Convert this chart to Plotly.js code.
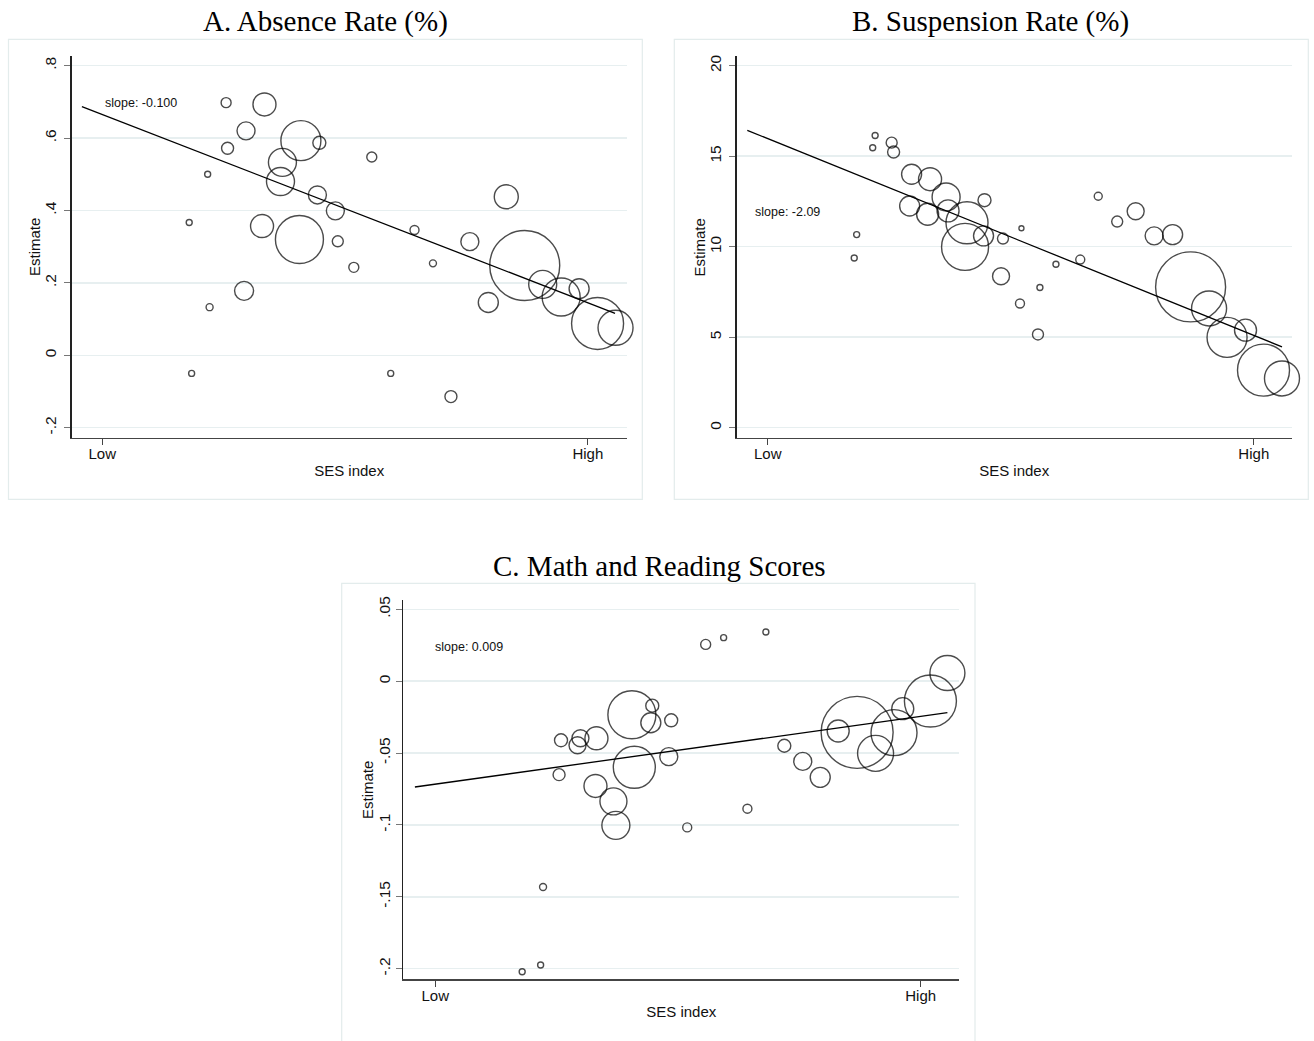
<!DOCTYPE html>
<html><head><meta charset="utf-8">
<script src="https://cdn.plot.ly/plotly-3.0.1.min.js"></script>
<style>html,body{margin:0;padding:0;background:#fff}#chart{width:1314px;height:1041px}</style>
</head><body><div id="chart"></div>
<script>
// ---------- data ----------
const sesTickVals = [0, 1];
const sesTickText = ['Low', 'High'];

// Panel A: Absence Rate (%)
const absenceX = [0.255,0.334,0.296,0.409,0.447,0.258,0.217,0.555,0.371,0.367,0.443,0.480,0.832,0.179,0.329,0.406,0.485,0.643,0.757,0.518,0.681,0.870,0.907,0.982,0.945,0.292,0.795,0.221,1.020,1.057,0.184,0.594,0.718];
const absenceY = [0.698,0.693,0.620,0.593,0.587,0.572,0.500,0.548,0.533,0.480,0.443,0.399,0.438,0.367,0.357,0.320,0.315,0.346,0.314,0.243,0.254,0.248,0.196,0.184,0.161,0.178,0.146,0.133,0.088,0.076,-0.050,-0.050,-0.114];
const absenceWeight = [10,23,18,40,13,12,6,10,28,28,18,18,24,6,23,48,11,9,18,10,7,70,28,20,38,19,20,7,52,35,6,6,12];
const absenceFitX = [-0.042, 1.056];
const absenceFitY = [0.687, 0.116];
const absenceTickVals = [0.8, 0.6, 0.4, 0.2, 0, -0.2];
const absenceTickText = ['.8', '.6', '.4', '.2', '0', '-.2'];
const absenceSlope = 'slope: -0.100';

// Panel B: Suspension Rate (%)
const suspX = [0.221,0.216,0.255,0.259,0.296,0.334,0.367,0.292,0.329,0.371,0.410,0.446,0.444,0.406,0.484,0.183,0.178,0.522,0.480,0.593,0.643,0.519,0.560,0.556,0.680,0.719,0.757,0.795,0.833,0.870,0.908,0.945,0.983,1.020,1.058];
const suspY = [16.14,15.47,15.75,15.23,14.00,13.73,12.75,12.25,11.79,11.98,11.32,12.57,10.60,9.99,10.45,10.67,9.38,11.02,8.37,9.03,9.29,6.86,7.75,5.15,12.79,11.39,11.96,10.60,10.67,7.78,6.59,4.99,5.39,3.18,2.72];
const suspWeight = [6,6,11,12,20,23,28,20,22,22,42,13,20,47,11,6,6,5,17,6,9,9,6,11,8,11,17,18,20,70,35,40,22,52,35];
const suspFitX = [-0.042, 1.058];
const suspFitY = [16.43, 4.47];
const suspTickVals = [20, 15, 10, 5, 0];
const suspTickText = ['20', '15', '10', '5', '0'];
const suspSlope = 'slope: -2.09';

// Panel C: Math and Reading Scores
const scoreX = [0.557,0.594,0.681,1.055,1.020,0.963,0.405,0.447,0.444,0.486,0.259,0.299,0.293,0.332,0.830,0.869,0.945,0.907,0.719,0.757,0.793,0.481,0.410,0.255,0.330,0.367,0.372,0.519,0.643,0.222,0.217,0.179];
const scoreY = [0.0256,0.0303,0.0342,0.0057,-0.0138,-0.0191,-0.0233,-0.0170,-0.0289,-0.0272,-0.0411,-0.0397,-0.0446,-0.0397,-0.0346,-0.0356,-0.0358,-0.0502,-0.0449,-0.0558,-0.0669,-0.0525,-0.0599,-0.0650,-0.0729,-0.0836,-0.1003,-0.1017,-0.0887,-0.1432,-0.1975,-0.2021];
const scoreWeight = [10,6,6,35,52,22,48,13,20,13,13,17,17,23,22,72,46,36,13,18,20,18,42,12,23,27,28,9,9,7,6,6];
const scoreFitX = [-0.042, 1.055];
const scoreFitY = [-0.0736, -0.0219];
const scoreTickVals = [0.05, 0, -0.05, -0.1, -0.15, -0.2];
const scoreTickText = ['.05', '0', '-.05', '-.1', '-.15', '-.2'];
const scoreSlope = 'slope: 0.009';

const panelTitles = ['A. Absence Rate (%)', 'B. Suspension Rate (%)', 'C. Math and Reading Scores'];
const yTitle = 'Estimate';
const xTitle = 'SES index';

// ---------- layout helpers ----------
const W = 1314, H = 1041;
const px = v => v / W;
const py = v => 1 - v / H;
const gridColor = '#e7eff0';
const frameColor = '#e3ecec';
const sans = 'Liberation Sans, Arial, Helvetica, sans-serif';
const tickFont = {family: sans, size: 15, color: '#111'};
const yTickFont = {family: sans, size: 15.5, color: '#111'};
const titleFont = {family: 'Liberation Serif, Times New Roman, serif', size: 29, color: '#000'};

function xAxis(x0, x1, range, anchor) {
  return {
    domain: [px(x0), px(x1)], range: range, anchor: anchor,
    tickmode: 'array', tickvals: sesTickVals, ticktext: sesTickText,
    ticks: 'outside', ticklen: 6, tickwidth: 1, tickcolor: '#444',
    showgrid: false, zeroline: false, showline: true, linecolor: '#444', linewidth: 1.3,
    tickfont: tickFont, ticklabelstandoff: -4,
    title: {text: xTitle, font: tickFont, standoff: 4},
    automargin: false, fixedrange: true
  };
}
function yAxis(y0, y1, range, anchor, vals, text, standoff) {
  return {
    domain: [py(y1), py(y0)], range: range, anchor: anchor,
    tickmode: 'array', tickvals: vals, ticktext: text, tickangle: -90,
    ticks: 'outside', ticklen: 6, tickwidth: 1, tickcolor: '#777',
    showgrid: true, gridcolor: gridColor, gridwidth: 1.5,
    zeroline: false, showline: true, linecolor: '#222', linewidth: 1.3,
    tickfont: yTickFont, ticklabelstandoff: standoff,
    automargin: false, fixedrange: true
  };
}

function bubbles(x, y, w, xa, ya) {
  return {
    type: 'scatter', mode: 'markers', x: x, y: y, xaxis: xa, yaxis: ya,
    cliponaxis: false,
    marker: {symbol: 'circle', size: w, sizemode: 'diameter', color: 'rgba(0,0,0,0)',
             line: {color: '#000', width: 1.4}},
    hoverinfo: 'skip', showlegend: false
  };
}
function fitLine(x, y, xa, ya) {
  return {
    type: 'scatter', mode: 'lines', x: x, y: y, xaxis: xa, yaxis: ya,
    cliponaxis: false,
    line: {color: '#000', width: 1.3}, hoverinfo: 'skip', showlegend: false
  };
}

const traces = [
  bubbles(absenceX, absenceY, absenceWeight, 'x', 'y'),
  fitLine(absenceFitX, absenceFitY, 'x', 'y'),
  bubbles(suspX, suspY, suspWeight, 'x2', 'y2'),
  fitLine(suspFitX, suspFitY, 'x2', 'y2'),
  bubbles(scoreX, scoreY, scoreWeight, 'x3', 'y3'),
  fitLine(scoreFitX, scoreFitY, 'x3', 'y3')
];

function frame(x0, y0, x1, y1) {
  return {type: 'rect', xref: 'paper', yref: 'paper', x0: px(x0), x1: px(x1), y0: py(y1), y1: py(y0),
          line: {color: frameColor, width: 1.2}, fillcolor: 'rgba(0,0,0,0)', layer: 'below'};
}
function panelTitle(text, cx, cy) {
  return {text: text, xref: 'paper', yref: 'paper', x: px(cx), y: py(cy),
          xanchor: 'center', yanchor: 'middle', showarrow: false, font: titleFont};
}
function yTitleNote(cx, cy) {
  return {text: yTitle, xref: 'paper', yref: 'paper', x: px(cx), y: py(cy), textangle: -90,
          xanchor: 'center', yanchor: 'middle', showarrow: false, font: tickFont};
}
function slopeNote(text, x, y, xr, yr) {
  return {text: text, xref: xr, yref: yr, x: x, y: y, xanchor: 'left', yanchor: 'middle',
          showarrow: false, font: {family: sans, size: 12.5, color: '#111'}};
}

const layout = {
  width: W, height: H,
  margin: {l: 0, r: 0, t: 0, b: 0, pad: 0},
  paper_bgcolor: '#fff', plot_bgcolor: '#fff',
  showlegend: false,
  xaxis:  xAxis(71.7, 626.7, [-0.063, 1.080], 'y'),
  yaxis:  yAxis(56, 437.7, [-0.2276, 0.8268], 'x', absenceTickVals, absenceTickText, 2),
  xaxis2: xAxis(736.7, 1291.7, [-0.0638, 1.078], 'y2'),
  yaxis2: yAxis(56, 437.7, [-0.552, 20.536], 'x2', suspTickVals, suspTickText, 2),
  xaxis3: xAxis(403.3, 959.3, [-0.0659, 1.0795], 'y3'),
  yaxis3: yAxis(600, 979.3, [-0.2074, 0.0565], 'x3', scoreTickVals, scoreTickText, 0),
  shapes: [
    frame(8.5, 39.3, 642.3, 499.3),
    frame(674.3, 39.3, 1308.3, 499.3),
    frame(341.7, 583.3, 975, 1045)
  ],
  annotations: [
    panelTitle(panelTitles[0], 325, 22),
    panelTitle(panelTitles[1], 990, 22),
    panelTitle(panelTitles[2], 659.5, 566),
    yTitleNote(35, 247),
    yTitleNote(699.5, 247),
    yTitleNote(367, 790),
    slopeNote(absenceSlope, 0.001, 0.698, 'x', 'y'),
    slopeNote(suspSlope, -0.031, 11.93, 'x2', 'y2'),
    slopeNote(scoreSlope, -0.004, 0.024, 'x3', 'y3')
  ]
};

Plotly.newPlot('chart', traces, layout, {staticPlot: true, displayModeBar: false});
</script>
</body></html>
